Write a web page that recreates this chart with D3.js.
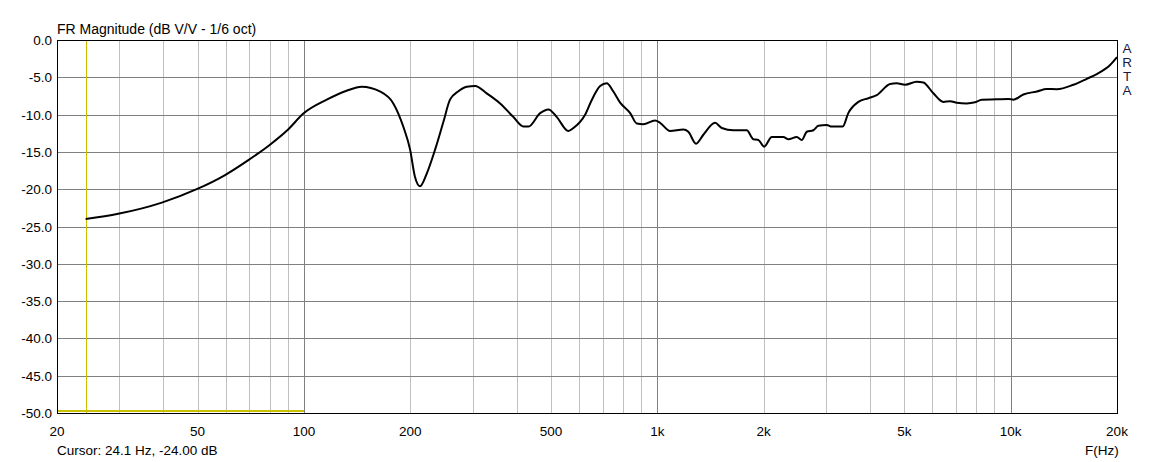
<!DOCTYPE html>
<html>
<head>
<meta charset="utf-8">
<script src="https://cdnjs.cloudflare.com/ajax/libs/d3/7.8.5/d3.min.js"></script>
<style>
  body { margin: 0; background: #fff; }
  svg text { font-family: "Liberation Sans", Arial, sans-serif; font-size: 13.5px; fill: #000; }
</style>
</head>
<body>
<svg id="chart" width="1173" height="462"></svg>
<script>
// frequency response (Hz, dB)
var freqs = [24.1, 29.8, 39.6, 49.7, 59.8, 69.6, 79.8, 89.7, 100, 116, 132, 145.7, 164, 179, 191, 199.7, 206, 213,
  222.6, 235, 248, 259, 273, 289, 305, 329, 359, 391, 418, 432, 466, 492, 519, 560, 579, 624, 653, 689, 719, 751,
  785, 838, 875, 913, 985, 1018, 1087, 1185, 1224, 1287, 1350, 1457, 1522, 1642, 1791, 1870, 1932, 2006, 2109,
  2273, 2350, 2482, 2564, 2649, 2765, 2856, 3018, 3116, 3348, 3472, 3707, 3957, 4178, 4558, 4757, 5024, 5422,
  5662, 6044, 6452, 6740, 7038, 7511, 7932, 8284, 9132, 9852, 10180, 10866, 11860, 12660, 13510, 15056, 16426,
  17538, 19122, 20000];
var mags = [-24.0, -23.3, -21.8, -20.0, -18.1, -16.1, -14.1, -12.1, -9.8, -8.0, -6.8, -6.26, -6.9, -8.5, -11.6, -14.7,
  -18.3, -19.6, -17.9, -14.7, -11.0, -8.0, -6.9, -6.26, -6.17, -7.15, -8.5, -10.3, -11.6, -11.6, -9.8, -9.3, -10.3,
  -12.2, -11.8, -10.05, -8.0, -6.17, -5.8, -6.9, -8.4, -9.8, -11.2, -11.3, -10.8, -11.1, -12.2, -12.0, -12.3, -13.9,
  -12.7, -11.1, -11.8, -12.1, -12.1, -13.3, -13.4, -14.3, -13.0, -13.0, -13.3, -13.0, -13.4, -12.3, -12.1, -11.5,
  -11.4, -11.6, -11.6, -9.8, -8.3, -7.8, -7.4, -5.9, -5.8, -6.0, -5.6, -5.7, -7.15, -8.3, -8.2, -8.4, -8.5, -8.35,
  -8.0, -7.95, -7.9, -8.0, -7.3, -6.9, -6.57, -6.6, -6.0, -5.2, -4.56, -3.35, -2.3];

var xTicks = [20, 50, 100, 200, 500, 1000, 2000, 5000, 10000, 20000];
var xTickLabels = ["20", "50", "100", "200", "500", "1k", "2k", "5k", "10k", "20k"];
var yTicks = [0, -5, -10, -15, -20, -25, -30, -35, -40, -45, -50];

var cursorFreq = 24.1, cursorDb = -24.0;
var markerRange = [20, 100], markerDb = -49.7;

var svg = d3.select("#chart");
var plotL = 57, plotR = 1117, plotT = 40, plotB = 413;

var x = d3.scaleLog().domain([20, 20000]).range([plotL, plotR]);
var y = d3.scaleLinear().domain([-50, 0]).range([plotB, plotT]);

// minor vertical grid: every 1..9 per decade
var minor = [];
[10, 100, 1000, 10000].forEach(function(dec) {
  for (var k = 1; k <= 9; k++) {
    var f = dec * k;
    if (f > 20 && f < 20000) minor.push(f);
  }
});
var g = svg.append("g").attr("shape-rendering", "crispEdges");
g.selectAll("line.vminor").data(minor).enter().append("line")
  .attr("x1", function(d) { return Math.round(x(d)) + 0.5; })
  .attr("x2", function(d) { return Math.round(x(d)) + 0.5; })
  .attr("y1", plotT).attr("y2", plotB)
  .attr("stroke", function(d) { return (d === 100 || d === 1000 || d === 10000) ? "#808080" : "#c0c0c0"; });

g.selectAll("line.h").data(yTicks.slice(1, -1)).enter().append("line")
  .attr("x1", plotL).attr("x2", plotR)
  .attr("y1", function(d) { return Math.round(y(d)) + 0.5; })
  .attr("y2", function(d) { return Math.round(y(d)) + 0.5; })
  .attr("stroke", "#808080");

// cursor + marker (yellow)
g.append("line")
  .attr("x1", Math.round(x(cursorFreq)) + 0.5).attr("x2", Math.round(x(cursorFreq)) + 0.5)
  .attr("y1", plotT).attr("y2", plotB)
  .attr("stroke", "#c8c000");
g.append("line")
  .attr("x1", x(markerRange[0])).attr("x2", x(markerRange[1]))
  .attr("y1", y(markerDb)).attr("y2", y(markerDb))
  .attr("stroke", "#c8c000").attr("stroke-width", 2.5);

// border
g.append("rect")
  .attr("x", plotL + 0.5).attr("y", plotT + 0.5)
  .attr("width", plotR - plotL).attr("height", plotB - plotT)
  .attr("fill", "none").attr("stroke", "#000");

// response curve
var pts = freqs.map(function(f, i) { return [f, mags[i]]; });
svg.append("path")
  .datum(pts)
  .attr("fill", "none").attr("stroke", "#000").attr("stroke-width", 2)
  .attr("stroke-linejoin", "round")
  .attr("d", d3.line().curve(d3.curveMonotoneX)
    .x(function(d) { return x(d[0]); }).y(function(d) { return y(d[1]); }));

// y labels
svg.selectAll("text.yl").data(yTicks).enter().append("text")
  .attr("x", plotL - 5).attr("y", function(d) { return y(d) + 5; })
  .attr("text-anchor", "end")
  .text(function(d) { return d.toFixed(1); });

// x labels
svg.selectAll("text.xl").data(xTicks).enter().append("text")
  .attr("x", function(d) { return x(d); }).attr("y", 436)
  .attr("text-anchor", "middle")
  .text(function(d, i) { return xTickLabels[i]; });

svg.append("text").attr("x", plotL).attr("y", 34).style("font-size", "14px")
  .text("FR Magnitude (dB V/V - 1/6 oct)");
svg.append("text").attr("x", plotL).attr("y", 455)
  .text("Cursor: " + cursorFreq + " Hz, " + cursorDb.toFixed(2) + " dB");
svg.append("text").attr("x", 1085).attr("y", 455).text("F(Hz)");

["A", "R", "T", "A"].forEach(function(c, i) {
  svg.append("text").attr("x", 1127).attr("y", 53 + i * 14)
    .attr("text-anchor", "middle").style("fill", "#1a1a40").text(c);
});
</script>
</body>
</html>
